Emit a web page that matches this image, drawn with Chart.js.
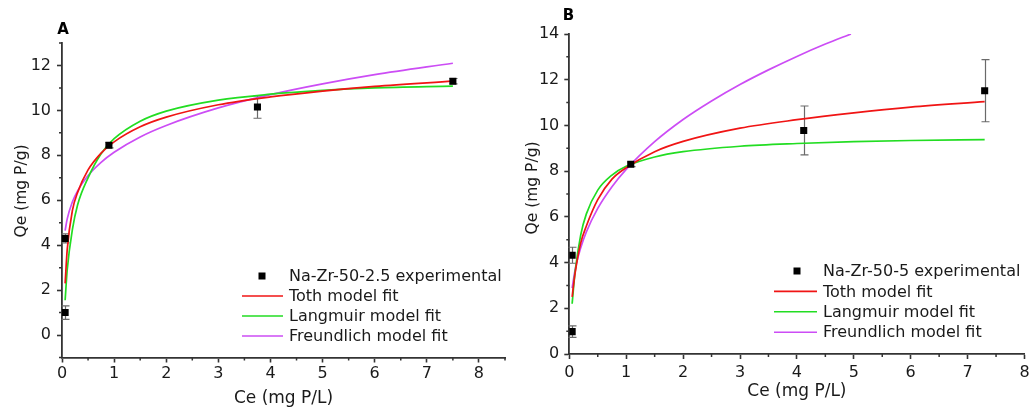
<!DOCTYPE html>
<html>
<head>
<meta charset="utf-8">
<script src="https://cdn.jsdelivr.net/npm/chart.js@4.4.1/dist/chart.umd.min.js"></script>
<style>
  html, body { margin: 0; padding: 0; background: #fff; }
  #wrap { position: relative; width: 1034px; height: 410px; }
  #chartA { position: absolute; left: 0; top: 0; }
  #chartB { position: absolute; left: 510px; top: 0; }
</style>
</head>
<body>
<div id="wrap">
  <canvas id="chartA" width="510" height="410"></canvas>
  <canvas id="chartB" width="524" height="410"></canvas>
</div>
<script>
// ---- panel A : Na-Zr-50-2.5 ----
const ceA = [0.06, 0.06, 0.9, 3.75, 7.5];
const qeA = [1.0, 4.3, 8.45, 10.15, 11.3];
const errA = [0.3, 0.2, 0.12, 0.5, 0.12];
const fitXA = [0.06, 0.1, 0.2, 0.3, 0.5, 0.75, 1, 1.5, 2, 3, 4, 5, 6, 7.5];
const tothA = [2.3, 3.8, 5.55, 6.35, 7.35, 8.1, 8.6, 9.27, 9.7, 10.25, 10.6, 10.86, 11.07, 11.3];
const langA = [1.55, 2.9, 4.7, 5.8, 7.0, 8.07, 8.74, 9.52, 9.97, 10.46, 10.72, 10.89, 11.0, 11.08];
const freuA = [4.65, 5.17, 5.93, 6.42, 7.1, 7.69, 8.14, 8.82, 9.33, 10.11, 10.7, 11.18, 11.59, 12.1];

// ---- panel B : Na-Zr-50-5 ----
const ceB = [0.05, 0.05, 1.08, 4.12, 7.3];
const qeB = [0.98, 4.32, 8.3, 9.78, 11.52];
const errB = [0.25, 0.35, 0.1, 1.07, 1.36];
const fitXB = [0.05, 0.1, 0.2, 0.3, 0.5, 0.75, 1, 1.5, 2, 3, 4, 5, 6, 7.3];
const tothB = [2.5, 3.5, 4.85, 5.6, 6.75, 7.65, 8.15, 8.85, 9.3, 9.88, 10.25, 10.55, 10.8, 11.04];
const langB = [2.2, 3.56, 5.2, 6.13, 7.17, 7.83, 8.21, 8.62, 8.85, 9.09, 9.21, 9.29, 9.34, 9.38];
const fitXBF = [0.05, 0.1, 0.2, 0.3, 0.5, 0.75, 1, 1.5, 2, 2.5, 3, 3.5, 4, 4.5, 4.95];
const freuB = [2.88, 3.66, 4.64, 5.34, 6.37, 7.32, 8.08, 9.29, 10.26, 11.07, 11.79, 12.43, 13.02, 13.56, 14.0];

// tick labels
const ticksX = [0, 1, 2, 3, 4, 5, 6, 7, 8];
const ticksYA = [0, 2, 4, 6, 8, 10, 12];
const ticksYB = [0, 2, 4, 6, 8, 10, 12, 14];

const labelsA = ["Na-Zr-50-2.5 experimental", "Toth model fit", "Langmuir model fit", "Freundlich model fit"];
const labelsB = ["Na-Zr-50-5 experimental", "Toth model fit", "Langmuir model fit", "Freundlich model fit"];

const RED = "#f01414";
const GREEN = "#22dd22";
const MAGENTA = "#cc4df5";
const AXIS = "#333";
const FONT = "DejaVu Sans";

Chart.defaults.font.family = FONT;
Chart.defaults.font.size = 16;
Chart.defaults.color = "#1a1a1a";

const zip = (xs, ys) => xs.map((x, i) => ({ x: x, y: ys[i] }));

function buildDatasets(labels, ce, qe, fx, toth, lang, fxF, freu) {
  const fit = (label, color, xs, ys) => ({
    label: label,
    data: zip(xs, ys),
    showLine: true,
    borderColor: color,
    borderWidth: 1.7,
    pointRadius: 0,
    cubicInterpolationMode: "monotone",
  });
  return [
    {
      label: labels[0],
      data: zip(ce, qe),
      pointStyle: "rect",
      pointRadius: 5,
      backgroundColor: "#000",
      borderColor: "#000",
      borderWidth: 0,
      showLine: false,
    },
    fit(labels[1], RED, fx, toth),
    fit(labels[2], GREEN, fx, lang),
    fit(labels[3], MAGENTA, fxF, freu),
  ];
}

const extras = {
  id: "extras",
  beforeDatasetsDraw(chart, args, opts) {
    // error bars
    const { ctx, scales: { x, y } } = chart;
    const pts = chart.data.datasets[0].data;
    ctx.save();
    ctx.strokeStyle = "#6a6a6a";
    ctx.lineWidth = 1.2;
    pts.forEach((p, i) => {
      const e = opts.err[i];
      const px = Math.round(x.getPixelForValue(p.x)) + 0.5;
      const y0 = y.getPixelForValue(p.y - e);
      const y1 = y.getPixelForValue(p.y + e);
      ctx.beginPath();
      ctx.moveTo(px, y0); ctx.lineTo(px, y1);
      ctx.moveTo(px - 4, y0); ctx.lineTo(px + 4, y0);
      ctx.moveTo(px - 4, y1); ctx.lineTo(px + 4, y1);
      ctx.stroke();
    });
    ctx.restore();
  },
  afterDraw(chart, args, opts) {
    const { ctx, chartArea: area, scales: { x, y } } = chart;
    ctx.save();
    // minor ticks
    ctx.strokeStyle = AXIS;
    ctx.lineWidth = 1.5;
    ctx.beginPath();
    for (let v = x.min; v <= x.max + 1e-9; v += 0.5) {
      if (v % 1 === 0) continue;
      const px = x.getPixelForValue(v);
      ctx.moveTo(px, area.bottom); ctx.lineTo(px, area.bottom + 3);
    }
    for (let v = Math.ceil(y.min); v <= y.max + 1e-9; v += 1) {
      if (v % 2 === 0) continue;
      const py = y.getPixelForValue(v);
      ctx.moveTo(area.left, py); ctx.lineTo(area.left - 3, py);
    }
    ctx.stroke();

    // axis titles
    ctx.fillStyle = "#1a1a1a";
    ctx.textAlign = "center";
    ctx.textBaseline = "middle";
    ctx.font = `17px "${FONT}"`;
    ctx.fillText("Ce (mg P/L)", (area.left + area.right) / 2, opts.xTitleY);
    ctx.save();
    ctx.translate(opts.yTitleX, opts.yTitleY);
    ctx.rotate(-Math.PI / 2);
    ctx.font = `15.5px "${FONT}"`;
    ctx.fillText("Qe (mg P/g)", 0, 0);
    ctx.restore();

    // panel letter
    ctx.font = `bold 15px "${FONT}"`;
    ctx.fillStyle = "#000";
    ctx.fillText(opts.letter, opts.letterX, opts.letterY);

    // legend
    const lg = opts.legend;
    ctx.font = `16px "${FONT}"`;
    ctx.textAlign = "left";
    chart.data.datasets.forEach((ds, i) => {
      const ry = lg.top + i * lg.rowH;
      if (ds.showLine) {
        ctx.strokeStyle = ds.borderColor;
        ctx.lineWidth = 1.6;
        ctx.beginPath();
        ctx.moveTo(lg.lineX0, ry); ctx.lineTo(lg.lineX1, ry);
        ctx.stroke();
      } else {
        ctx.fillStyle = "#000";
        ctx.fillRect(lg.markX - 3.5, ry - 3.5, 7, 7);
      }
      ctx.fillStyle = "#1a1a1a";
      ctx.fillText(ds.label, lg.textX, ry + 1);
    });
    ctx.restore();
  },
};

function makeChart(id, datasets, cfg) {
  const axisCommon = {
    type: "linear",
    grid: { drawOnChartArea: false, drawTicks: true, tickLength: 5, color: AXIS, tickWidth: 1.6 },
    border: { display: true, color: AXIS, width: 1.8 },
  };
  return new Chart(document.getElementById(id), {
    type: "scatter",
    data: { datasets: datasets },
    options: {
      responsive: false,
      animation: false,
      events: [],
      layout: { padding: cfg.padding },
      scales: {
        x: {
          ...axisCommon,
          min: 0,
          max: cfg.xMax,
          afterBuildTicks: (s) => { s.ticks = ticksX.map((v) => ({ value: v })); },
          afterFit: (s) => { s.height = cfg.xHeight; },
          ticks: { padding: cfg.xPad, maxRotation: 0, autoSkip: false },
        },
        y: {
          ...axisCommon,
          min: cfg.yMin,
          max: cfg.yMax,
          afterBuildTicks: (s) => { s.ticks = cfg.yTicks.map((v) => ({ value: v })); },
          afterFit: (s) => { s.width = cfg.yWidth; },
          ticks: { padding: cfg.yPad, autoSkip: false },
        },
      },
      plugins: {
        legend: { display: false },
        tooltip: { enabled: false },
        extras: cfg.extras,
      },
    },
    plugins: [extras],
  });
}

makeChart("chartA", buildDatasets(labelsA, ceA, qeA, fitXA, tothA, langA, fitXA, freuA), {
  padding: { left: 0, right: 0, top: 43, bottom: 0 },
  xMax: 8.5, yMin: -1, yMax: 13, yTicks: ticksYA,
  xHeight: 52.5, yWidth: 62, xPad: 2, yPad: 6,
  extras: {
    err: errA, letter: "A", letterX: 63, letterY: 30,
    xTitleY: 399, yTitleX: 22, yTitleY: 191,
    legend: { top: 276, rowH: 20, lineX0: 242, lineX1: 283, markX: 262, textX: 289 },
  },
});

makeChart("chartB", buildDatasets(labelsB, ceB, qeB, fitXB, tothB, langB, fitXBF, freuB), {
  padding: { left: 0, right: 9.5, top: 34, bottom: 0 },
  xMax: 8, yMin: 0, yMax: 14, yTicks: ticksYB,
  xHeight: 56, yWidth: 59.3, xPad: 4, yPad: 5,
  extras: {
    err: errB, letter: "B", letterX: 58.5, letterY: 16,
    xTitleY: 392, yTitleX: 23, yTitleY: 188,
    legend: { top: 271, rowH: 20.4, lineX0: 264, lineX1: 307, markX: 287, textX: 313 },
  },
});
</script>
</body>
</html>
